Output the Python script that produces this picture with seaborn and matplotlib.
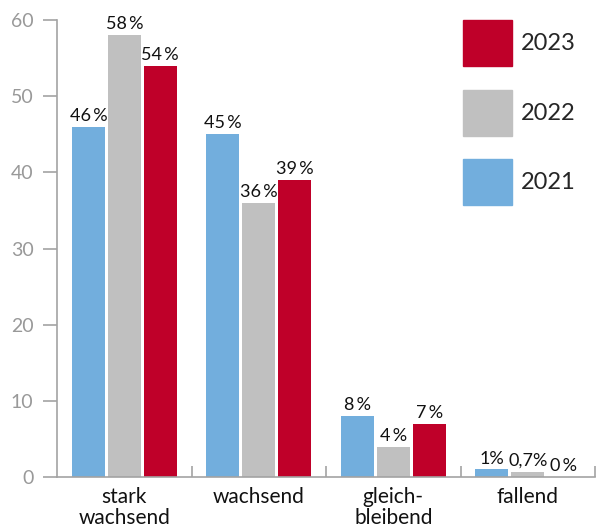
import matplotlib
matplotlib.use("Agg")
import matplotlib.pyplot as plt
import matplotlib.patches as mpatches
import seaborn as sns
import pandas as pd

categories = ["stark\nwachsend", "wachsend", "gleich-\nbleibend", "fallend"]
years = ["2021", "2022", "2023"]
values_2021 = [46, 45, 8, 1]
values_2022 = [58, 36, 4, 0.7]
values_2023 = [54, 39, 7, 0]
labels_2021 = ["46\u2009%", "45\u2009%", "8\u2009%", "1%"]
labels_2022 = ["58\u2009%", "36\u2009%", "4\u2009%", "0,7%"]
labels_2023 = ["54\u2009%", "39\u2009%", "7\u2009%", "0\u2009%"]
y_ticks = [0, 10, 20, 30, 40, 50, 60]

colors = {"2021": "#72AEDD", "2022": "#C0C0C0", "2023": "#BF0029"}
axis_grey = "#A3A3A3"

df = pd.DataFrame({
    "Kategorie": categories * 3,
    "Jahr": [y for y in years for _ in categories],
    "Wert": values_2021 + values_2022 + values_2023,
})

sns.set_theme(style="white")
plt.rcParams["font.family"] = ["Lato", "DejaVu Sans"]

fig = plt.figure(figsize=(5.96, 5.29), dpi=100)
ax = fig.add_axes([57 / 596, 1 - 477 / 529, (595 - 57) / 596, (477 - 20) / 529])

sns.barplot(data=df, x="Kategorie", y="Wert", hue="Jahr", order=categories,
            hue_order=years, palette=colors, width=0.8, gap=0.085,
            saturation=1, legend=False, ax=ax, linewidth=0)

for container, labs in zip(ax.containers, [labels_2021, labels_2022, labels_2023]):
    ax.bar_label(container, labels=labs, padding=2, fontsize=13, color="#111111")

ax.set_xlim(-0.5, 3.5)
ax.set_ylim(0, 60)
ax.set_yticks(y_ticks)
ax.set_xlabel("")
ax.set_ylabel("")

for side in ("top", "right"):
    ax.spines[side].set_visible(False)
for side in ("left", "bottom"):
    ax.spines[side].set_color(axis_grey)
    ax.spines[side].set_linewidth(1.2)

ax.tick_params(axis="y", which="major", direction="out", length=10, width=1.2,
               color=axis_grey, labelcolor="#999999", labelsize=14, pad=7, left=True)
ax.tick_params(axis="x", which="major", length=0, labelsize=15, labelcolor="#111111", pad=7)
ax.set_xticks([0.5, 1.5, 2.5, 3.5], minor=True)
ax.tick_params(axis="x", which="minor", direction="in", length=8, width=1.2,
               color=axis_grey, bottom=True)
for lab in ax.get_xticklabels():
    lab.set_linespacing(1.1)

handles = [mpatches.Patch(color=colors[y], label=y) for y in reversed(years)]
fig.legend(handles=handles, loc="upper left", bbox_to_anchor=(463 / 596, 1 - 20 / 529),
           frameon=False, fontsize=17, handlelength=2.08, handleheight=2.62,
           labelspacing=1.0, handletextpad=0.35, borderpad=0, borderaxespad=0)

fig.savefig("out.png", dpi=100)
